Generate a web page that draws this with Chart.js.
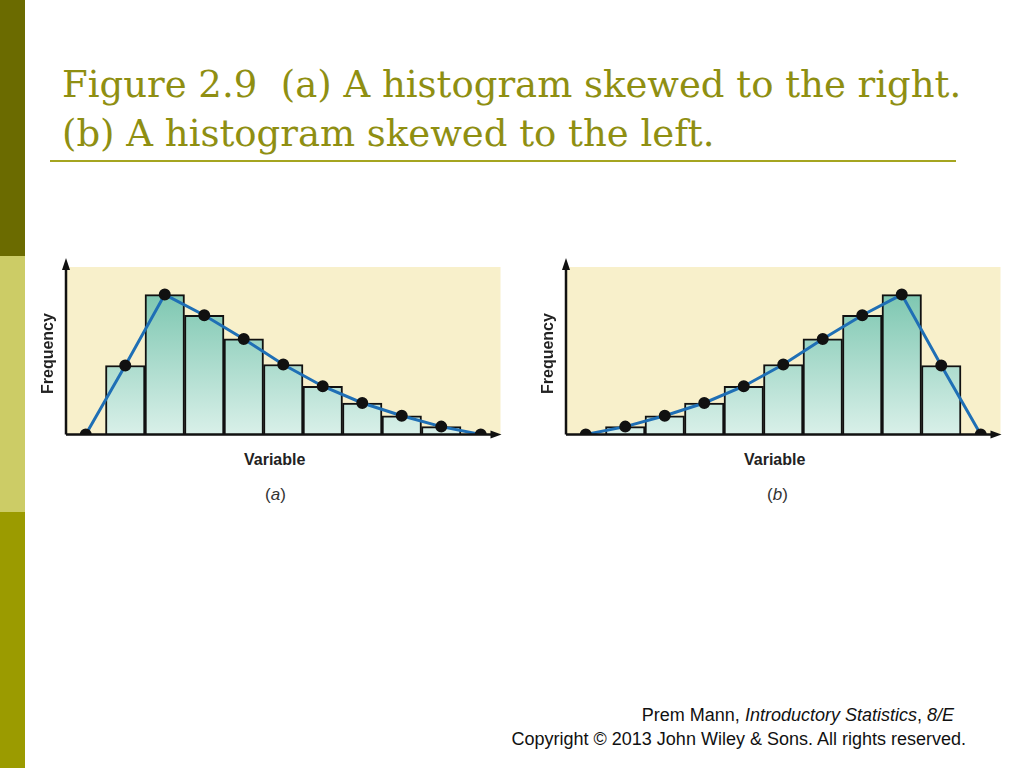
<!DOCTYPE html><html><head><meta charset="utf-8">
<script src="https://cdn.jsdelivr.net/npm/chart.js@4"></script>
<style>
body{margin:0;width:1024px;height:768px;position:relative;background:#fff;overflow:hidden;font-family:"Liberation Sans",Arial,sans-serif}
.bar{position:absolute;left:0;width:25px}
.t{position:absolute;left:62px;top:60px;font-family:"DejaVu Serif",serif;font-size:37px;line-height:49px;color:#8f8f12;margin:0}
.hr{position:absolute;left:50px;top:160px;width:906px;height:2px;background:#a5a520}
.lab{position:absolute;font-weight:bold;font-size:16px;color:#222}
.frq{transform:rotate(-90deg);transform-origin:center}
.cap{position:absolute;font-size:17px;color:#333}
.foot{position:absolute;font-size:18px;color:#111;text-align:right}
canvas{position:absolute}
</style></head><body>
<div class="bar" style="top:0;height:256px;background:#6b6b00"></div>
<div class="bar" style="top:256px;height:256px;background:#cccc66"></div>
<div class="bar" style="top:512px;height:256px;background:#9b9b00"></div>
<div class="t">Figure 2.9&nbsp; (a) A histogram skewed to the right.<br>(b) A histogram skewed to the left.</div>
<div class="hr"></div>
<div style="position:absolute;left:56px;top:258px;width:452px;height:184px"><canvas id="ca"></canvas></div>
<div style="position:absolute;left:556px;top:258px;width:452px;height:184px"><canvas id="cb"></canvas></div>
<div class="lab frq" style="left:8px;top:345px;width:80px;text-align:center">Frequency</div>
<div class="lab frq" style="left:508px;top:345px;width:80px;text-align:center">Frequency</div>
<div class="lab" style="left:244px;top:451px">Variable</div>
<div class="lab" style="left:744px;top:451px">Variable</div>
<div class="cap" style="left:265px;top:485px">(<i>a</i>)</div>
<div class="cap" style="left:767px;top:485px">(<i>b</i>)</div>
<div class="foot" style="right:70px;top:705px">Prem Mann, <i>Introductory Statistics</i>, <i>8/E</i></div>
<div class="foot" style="right:58px;top:729px">Copyright © 2013 John Wiley &amp; Sons. All rights reserved.</div>
<script>
const categories=["","1","2","3","4","5","6","7","8","9",""];
const barsA=[0,70,142,121,97,71,49,32,19,8,0];
const polyA=[0,70,142,121,97,71,49,32,19,8,0];
const barsB=[0,8,19,32,49,71,97,121,142,70,0];
const polyB=[0,8,19,32,49,71,97,121,142,70,0];
const deco={id:'deco',beforeDraw(c){const a=c.chartArea,x=c.ctx;x.save();x.fillStyle='#f8f0cb';x.fillRect(a.left,a.top,a.right-a.left,a.bottom-a.top);x.restore();},
afterDatasetsDraw(c){const a=c.chartArea,x=c.ctx;x.save();x.strokeStyle='#111';x.fillStyle='#111';x.lineWidth=2.5;
x.beginPath();x.moveTo(a.left,a.bottom);x.lineTo(a.left,a.top-2);x.moveTo(a.left,a.bottom);x.lineTo(a.right-6,a.bottom);x.stroke();
x.beginPath();x.moveTo(a.left,a.top-9);x.lineTo(a.left-4,a.top+3);x.lineTo(a.left+4,a.top+3);x.fill();
x.beginPath();x.moveTo(a.right+1,a.bottom);x.lineTo(a.right-10,a.bottom-4);x.lineTo(a.right-10,a.bottom+4);x.fill();x.restore();}};
function grad(ctx){const c=ctx.chart,a=c.chartArea;if(!a)return '#9fd6c6';const g=c.ctx.createLinearGradient(0,a.top,0,a.bottom);g.addColorStop(0,'#6cbfa6');g.addColorStop(1,'#d9f0e9');return g;}
function make(id,bars,poly){new Chart(document.getElementById(id),{data:{labels:categories,datasets:[
{type:'line',data:poly,borderColor:'#1f6fb5',borderWidth:3,pointRadius:4.5,pointBackgroundColor:'#111',pointBorderColor:'#111',tension:0,order:0},
{type:'bar',data:bars,backgroundColor:grad,borderColor:'#111',borderWidth:2,barPercentage:1,categoryPercentage:1,order:1}]},
options:{responsive:true,maintainAspectRatio:false,animation:false,layout:{padding:{left:10,top:9,right:2,bottom:5}},
plugins:{legend:{display:false},tooltip:{enabled:false}},
scales:{x:{display:false,offset:true},y:{display:false,min:0,max:170}}},plugins:[deco]});}
make('ca',barsA,polyA);make('cb',barsB,polyB);
</script></body></html>
